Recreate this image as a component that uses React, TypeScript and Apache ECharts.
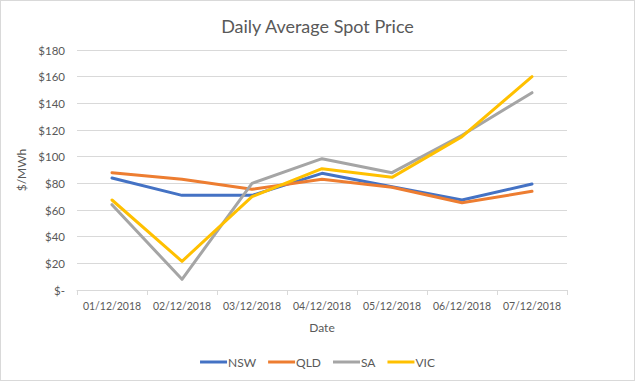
import React, { useEffect, useRef } from "react";
import * as echarts from "echarts";

const categories = ["01/12/2018", "02/12/2018", "03/12/2018", "04/12/2018", "05/12/2018", "06/12/2018", "07/12/2018"];
const nsw = [84, 71, 71, 87.5, 77.5, 67.5, 79.5];
const qld = [88, 83, 75.5, 83, 77, 65.5, 74];
const sa = [64, 8, 80, 98.5, 88, 116, 148];
const vic = [67.5, 21.5, 70, 91, 84.5, 115, 160];
const seriesNames = ["NSW", "QLD", "SA", "VIC"];
const seriesColors = ["#4472C4", "#ED7D31", "#A5A5A5", "#FFC000"];

const FONT = "Lato, 'Noto Sans', sans-serif";

export default function App() {
  const ref = useRef<HTMLDivElement>(null);
  useEffect(() => {
    document.body.style.margin = "0";
    const chart = echarts.init(ref.current!, undefined, { renderer: "svg" });
    const data = [nsw, qld, sa, vic];
    chart.setOption({
      animation: false,
      backgroundColor: "#ffffff",
      title: {
        text: "Daily Average Spot Price",
        left: "center",
        top: 11,
        textStyle: { fontFamily: FONT, fontSize: 18, fontWeight: "normal", color: "#595959" },
      },
      legend: {
        bottom: 7,
        left: "center",
        icon: "rect",
        itemWidth: 27,
        itemHeight: 3,
        itemGap: 12,
        textStyle: { fontFamily: FONT, fontSize: 12, color: "#595959", padding: [0, 0, 0, -4] },
        data: seriesNames,
      },
      grid: { left: 76, right: 67, top: 49, bottom: 90 },
      xAxis: {
        type: "category",
        data: categories,
        boundaryGap: true,
        name: "Date",
        nameLocation: "middle",
        nameGap: 31,
        nameTextStyle: { fontFamily: FONT, fontSize: 12, color: "#595959" },
        axisLine: { lineStyle: { color: "#d9d9d9", width: 1 } },
        axisTick: { show: true, length: 5, lineStyle: { color: "#d9d9d9" } },
        axisLabel: { fontFamily: FONT, fontSize: 10.5, color: "#595959", margin: 10, interval: 0 },
      },
      yAxis: {
        type: "value",
        min: 0,
        max: 180,
        interval: 20,
        name: "$/MWh",
        nameLocation: "middle",
        nameGap: 47,
        nameRotate: 90,
        nameTextStyle: { fontFamily: FONT, fontSize: 12, color: "#595959" },
        axisLine: { show: false },
        axisTick: { show: false },
        splitLine: { lineStyle: { color: "#d9d9d9", width: 1 } },
        axisLabel: {
          fontFamily: FONT,
          fontSize: 11.5,
          color: "#595959",
          margin: 12,
          formatter: (v: number) => (v === 0 ? "$-" : "$" + v),
        },
      },
      series: seriesNames.map((n, i) => ({
        name: n,
        type: "line",
        data: data[i],
        symbol: "none",
        color: seriesColors[i],
        lineStyle: { width: 3, color: seriesColors[i], cap: "round", join: "round" },
      })),
    });
    return () => chart.dispose();
  }, []);
  return (
    <div
      style={{
        width: 635,
        height: 381,
        boxSizing: "border-box",
        border: "1px solid #d9d9d9",
        background: "#fff",
      }}
    >
      <div ref={ref} style={{ width: 633, height: 379 }} />
    </div>
  );
}
